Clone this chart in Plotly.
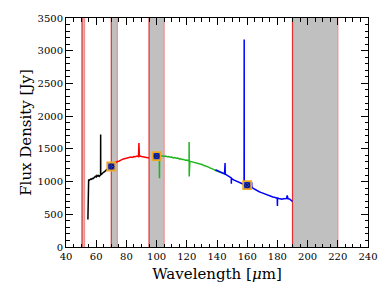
import plotly.graph_objects as go

# ---- data ----
black_x = [54.5, 54.6, 55, 55.5, 56, 56.5, 57, 57.5, 58, 58.5, 59, 59.5, 60, 60.5, 61, 61.5, 62, 62.5,
           62.9, 62.95, 63.0, 63.5, 64, 64.5, 65, 65.5, 66, 66.5, 67, 67.5, 68, 68.5, 69, 69.5, 70]
black_y = [420, 1015, 1032, 1020, 1030, 1042, 1035, 1050, 1045, 1058, 1062, 1080, 1070, 1095, 1085, 1092, 1080, 1098,
           1100, 1720, 1105, 1110, 1125, 1130, 1145, 1150, 1165, 1170, 1185, 1190, 1205, 1210, 1222, 1228, 1238]

red_x = [70, 70.5, 71, 71.5, 72, 72.5, 73, 73.5, 74, 75, 76, 77, 78, 79, 80, 81, 82, 83, 84, 85, 86, 87, 88,
         88.3, 88.6, 89, 90, 91, 92, 93, 94, 95]
red_y = [1240, 1255, 1270, 1278, 1288, 1282, 1300, 1295, 1308, 1312, 1328, 1335, 1345, 1350, 1362, 1358, 1370,
         1375, 1368, 1382, 1380, 1390, 1382, 1590, 1385, 1392, 1384, 1380, 1375, 1372, 1365, 1362]

green_x = [100, 101, 101.8, 101.9, 102, 103, 104, 105, 106, 107, 108, 109, 110, 111, 112, 113, 114, 115, 116,
           117, 118, 119, 120, 121, 121.5, 121.55, 121.6, 121.65, 122, 123, 124, 125, 126, 127, 128, 129, 130,
           131, 132, 133, 134, 135, 136, 137, 138, 139, 140, 141, 142, 143, 144, 145, 146]
green_y = [1395, 1400, 1392, 1050, 1398, 1388, 1395, 1384, 1390, 1378, 1382, 1372, 1375, 1362, 1366, 1355, 1358,
           1345, 1348, 1336, 1338, 1325, 1328, 1318, 1320, 1605, 1078, 1320, 1310, 1305, 1300, 1292, 1290, 1280,
           1278, 1266, 1262, 1250, 1245, 1232, 1225, 1212, 1205, 1190, 1182, 1168, 1160, 1148, 1142, 1130, 1122,
           1115, 1110]

blue_x = [139, 140, 141, 142, 143, 144, 145, 145.35, 145.45, 146, 147, 148, 149, 149.45, 149.5, 149.55, 150, 151,
          152, 153, 154, 155, 156, 157, 157.95, 158, 158.05, 159, 160, 161, 162, 163, 163.1, 164, 165, 166, 167,
          168, 169, 170, 171, 172, 173, 174, 175, 176, 177, 178, 179, 179.9, 180, 180.1, 181, 182, 183, 184, 185,
          186, 186.5, 187, 188, 189, 190]
blue_y = [1180, 1168, 1155, 1148, 1135, 1128, 1118, 1285, 1112, 1105, 1090, 1075, 1062, 1055, 967, 1050, 1040,
          1025, 1015, 1005, 990, 980, 972, 962, 955, 3170, 950, 945, 940, 932, 925, 990, 915, 895, 880, 868, 855,
          845, 835, 825, 815, 805, 795, 785, 775, 770, 765, 760, 752, 745, 625, 748, 742, 735, 730, 738, 742, 740,
          790, 738, 735, 715, 695]

marker_x = [70, 100, 160]
marker_y = [1230, 1390, 945]

band_starts = [50.6, 70, 95, 190]
band_ends = [52.3, 74, 105, 220]

x_ticks = [40, 60, 80, 100, 120, 140, 160, 180, 200, 220, 240]
y_ticks = [0, 500, 1000, 1500, 2000, 2500, 3000, 3500]

FONT = "DejaVu Serif"

fig = go.Figure()

for xs, ys, col in [(black_x, black_y, "#000000"), (red_x, red_y, "#ff0000"),
                    (green_x, green_y, "#1fb51f"), (blue_x, blue_y, "#0000ff")]:
    fig.add_trace(go.Scatter(x=xs, y=ys, mode="lines", line=dict(color=col, width=1.5),
                             showlegend=False, hoverinfo="skip"))

fig.add_trace(go.Scatter(x=marker_x, y=marker_y, mode="markers",
                         marker=dict(symbol="square", size=8, color="#2040e0",
                                     line=dict(color="#f0a820", width=1.8)),
                         showlegend=False))
fig.add_trace(go.Scatter(x=marker_x, y=marker_y, mode="markers",
                         marker=dict(symbol="circle-x-open", size=5, color="#101060",
                                     line=dict(color="#101060", width=1)),
                         showlegend=False))

shapes = []
for s, e in zip(band_starts, band_ends):
    shapes.append(dict(type="rect", xref="x", yref="paper", x0=s, x1=e, y0=0, y1=1,
                       fillcolor="#c0c0c0", line=dict(width=0), layer="below"))
    shapes.append(dict(type="line", xref="x", yref="paper", x0=s, x1=s, y0=0, y1=1,
                       line=dict(color="#e03030", width=1.2), layer="below"))
    shapes.append(dict(type="line", xref="x", yref="paper", x0=e, x1=e, y0=0, y1=1,
                       line=dict(color="#f09090", width=1.2), layer="below"))

axis_common = dict(showline=True, linecolor="black", linewidth=1, mirror="ticks",
                   ticks="inside", tickcolor="black", showgrid=False, zeroline=False,
                   tickfont=dict(family=FONT, size=10, color="black"))

fig.update_layout(
    width=390, height=297,
    margin=dict(l=66, r=16, t=16, b=50),
    paper_bgcolor="white", plot_bgcolor="white",
    shapes=shapes,
    font=dict(family=FONT, color="black"),
    xaxis=dict(range=[40, 240], tickvals=x_ticks, ticklen=7,
               minor=dict(dtick=5, tick0=40, ticklen=3.5, ticks="inside", tickcolor="black"),
               title=dict(text="Wavelength [<i>μ</i>m]", font=dict(family=FONT, size=15), standoff=7),
               **axis_common),
    yaxis=dict(range=[0, 3500], tickvals=y_ticks, ticklen=7,
               minor=dict(dtick=100, tick0=0, ticklen=3.5, ticks="inside", tickcolor="black"),
               title=dict(text="Flux Density [Jy]", font=dict(family=FONT, size=15), standoff=2),
               **axis_common),
)

fig.write_html("out.html", config={"displayModeBar": False},
               post_script="document.body.style.margin='0';document.body.style.overflow='hidden';")
